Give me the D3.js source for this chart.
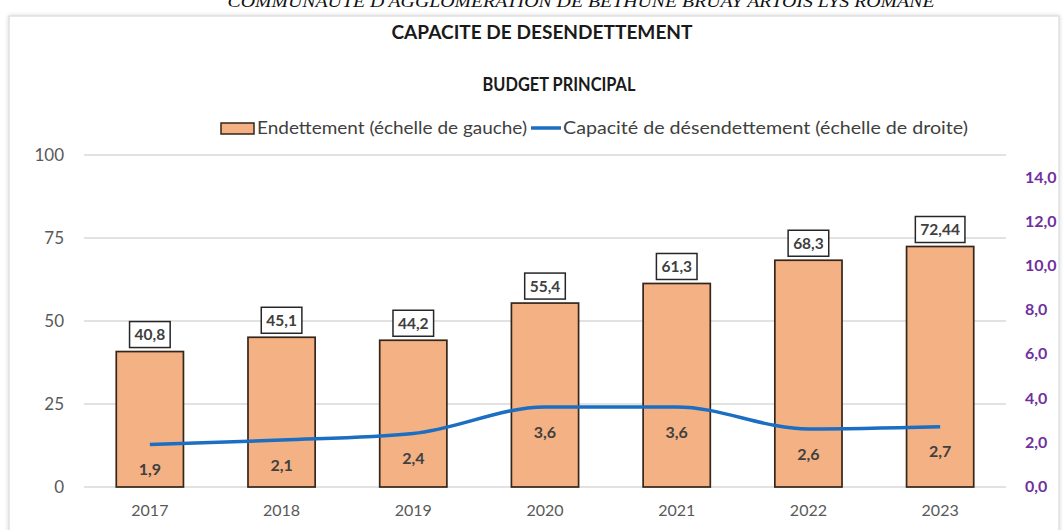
<!DOCTYPE html>
<html>
<head>
<meta charset="utf-8">
<script src="https://cdn.jsdelivr.net/npm/d3@7"></script>
<style>
  body { margin: 0; background: #fff; }
  svg text { font-family: Lato, "Open Sans", sans-serif; }
</style>
</head>
<body>
<div id="chart"></div>
<script>
// data
var years = ["2017", "2018", "2019", "2020", "2021", "2022", "2023"];
var debt = [40.8, 45.1, 44.2, 55.4, 61.3, 68.3, 72.44];
var debtLabels = ["40,8", "45,1", "44,2", "55,4", "61,3", "68,3", "72,44"];
var capacity = [1.9, 2.1, 2.4, 3.6, 3.6, 2.6, 2.7];
var leftTicks = [0, 25, 50, 75, 100];
var rightTicks = [0, 2, 4, 6, 8, 10, 12, 14];

var W = 1063, H = 530;
var frLocale = d3.formatLocale({decimal: ",", thousands: " ", grouping: [3], currency: ["", " €"]});
var fmt1 = frLocale.format(".1f");

var svg = d3.select("#chart").append("svg")
    .attr("width", W)
    .attr("height", H);

// frame with soft shadow
var defs = svg.append("defs");
var flt = defs.append("filter").attr("id", "shadow").attr("x", "-5%").attr("y", "-5%").attr("width", "110%").attr("height", "110%");
flt.append("feDropShadow").attr("dx", 0).attr("dy", 0).attr("stdDeviation", 2).attr("flood-color", "#000").attr("flood-opacity", 0.18);

svg.append("rect")
    .attr("x", 9).attr("y", 16)
    .attr("width", 1050).attr("height", 530)
    .attr("fill", "#fff")
    .attr("stroke", "#d4d4d4")
    .attr("filter", "url(#shadow)");

// header line, clipped by top of picture
svg.append("text")
    .attr("x", 581).attr("y", 7)
    .attr("text-anchor", "middle")
    .style("font-family", "'Liberation Serif', 'DejaVu Serif', serif")
    .style("font-style", "italic")
    .style("font-size", "17px")
    .attr("fill", "#111")
    .attr("textLength", 707)
    .attr("lengthAdjust", "spacingAndGlyphs")
    .text("COMMUNAUTE D'AGGLOMERATION DE BETHUNE BRUAY ARTOIS LYS ROMANE");

svg.append("text")
    .attr("x", 542).attr("y", 39)
    .attr("text-anchor", "middle")
    .style("font-size", "19px").style("font-weight", "bold")
    .attr("fill", "#1a1a1a")
    .attr("textLength", 301)
    .attr("lengthAdjust", "spacingAndGlyphs")
    .text("CAPACITE DE DESENDETTEMENT");

svg.append("text")
    .attr("x", 559).attr("y", 91)
    .attr("text-anchor", "middle")
    .style("font-size", "18px").style("font-weight", "bold")
    .attr("fill", "#1a1a1a")
    .attr("textLength", 153)
    .attr("lengthAdjust", "spacingAndGlyphs")
    .text("BUDGET PRINCIPAL");

// scales
var x = d3.scaleBand()
    .domain(years)
    .range([84, 1006])
    .paddingInner(0.49)
    .paddingOuter(0.245);

var yLeft = d3.scaleLinear().domain([0, 100]).range([487, 155]);
var yRight = d3.scaleLinear().domain([0, 14]).range([486.5, 177]);

// gridlines
svg.append("g")
    .selectAll("line")
    .data(leftTicks)
    .enter().append("line")
    .attr("x1", 84).attr("x2", 1006)
    .attr("y1", function(d) { return yLeft(d); })
    .attr("y2", function(d) { return yLeft(d); })
    .attr("stroke", "#d9d9d9")
    .attr("stroke-width", 1.3);

// left axis
var leftAxis = svg.append("g")
    .attr("transform", "translate(64,0)")
    .call(d3.axisLeft(yLeft).tickValues(leftTicks).tickSize(0).tickPadding(0));
leftAxis.select(".domain").remove();
leftAxis.selectAll("text")
    .style("font-family", "Lato, sans-serif")
    .style("font-size", "17px")
    .attr("fill", "#595959");

// right axis
var rightAxis = svg.append("g")
    .attr("transform", "translate(1025,0)")
    .call(d3.axisRight(yRight).tickValues(rightTicks).tickSize(0).tickPadding(0).tickFormat(fmt1));
rightAxis.select(".domain").remove();
rightAxis.selectAll("text")
    .style("font-family", "Lato, sans-serif")
    .style("font-size", "16px")
    .style("font-weight", "bold")
    .attr("fill", "#7030a0");

// x axis labels
var xAxis = svg.append("g")
    .attr("transform", "translate(0,487)")
    .call(d3.axisBottom(x).tickSize(0).tickPadding(18));
xAxis.select(".domain").remove();
xAxis.selectAll("text")
    .style("font-family", "Lato, sans-serif")
    .style("font-size", "16px")
    .attr("fill", "#595959");

// bars
svg.append("g")
    .selectAll("rect")
    .data(debt)
    .enter().append("rect")
    .attr("x", function(d, i) { return x(years[i]); })
    .attr("y", function(d) { return yLeft(d); })
    .attr("width", x.bandwidth())
    .attr("height", function(d) { return yLeft(0) - yLeft(d); })
    .attr("fill", "#f4b183")
    .attr("stroke", "#35261b")
    .attr("stroke-width", 1.7);

// boxed value labels on bars
var boxes = svg.append("g")
    .selectAll("g")
    .data(debt)
    .enter().append("g")
    .attr("transform", function(d, i) {
        return "translate(" + (x(years[i]) + x.bandwidth() / 2) + "," + (yLeft(d) - 17) + ")";
    });

boxes.append("text")
    .attr("text-anchor", "middle")
    .attr("dy", "0.35em")
    .style("font-size", "15.5px")
    .style("font-weight", "bold")
    .attr("fill", "#404040")
    .text(function(d, i) { return debtLabels[i]; });

boxes.each(function() {
    var g = d3.select(this);
    var bb = g.select("text").node().getBBox();
    g.insert("rect", "text")
        .attr("x", bb.x - 5)
        .attr("y", -13)
        .attr("width", bb.width + 10)
        .attr("height", 26)
        .attr("fill", "#fff")
        .attr("stroke", "#262626")
        .attr("stroke-width", 1.5);
});

// capacity line
var line = d3.line()
    .x(function(d, i) { return x(years[i]) + x.bandwidth() / 2; })
    .y(function(d) { return yRight(d); })
    .curve(d3.curveMonotoneX);

svg.append("path")
    .datum(capacity)
    .attr("d", line)
    .attr("fill", "none")
    .attr("stroke", "#1b6ec2")
    .attr("stroke-width", 3.5);

// capacity labels
svg.append("g")
    .selectAll("text")
    .data(capacity)
    .enter().append("text")
    .attr("x", function(d, i) { return x(years[i]) + x.bandwidth() / 2; })
    .attr("y", function(d) { return yRight(d) + 25; })
    .attr("text-anchor", "middle")
    .attr("dy", "0.35em")
    .style("font-size", "16px")
    .style("font-weight", "bold")
    .attr("fill", "#404040")
    .text(function(d) { return fmt1(d); });

// legend
var legend = svg.append("g");
legend.append("rect")
    .attr("x", 221).attr("y", 123)
    .attr("width", 33).attr("height", 11)
    .attr("fill", "#f4b183")
    .attr("stroke", "#35261b")
    .attr("stroke-width", 1.5);
legend.append("text")
    .attr("x", 257).attr("y", 128)
    .attr("dy", "0.35em")
    .style("font-size", "18px")
    .attr("fill", "#404040")
    .attr("textLength", 270)
    .attr("lengthAdjust", "spacingAndGlyphs")
    .text("Endettement (échelle de gauche)");
legend.append("line")
    .attr("x1", 531).attr("x2", 561)
    .attr("y1", 128).attr("y2", 128)
    .attr("stroke", "#1b6ec2")
    .attr("stroke-width", 3.5);
legend.append("text")
    .attr("x", 563).attr("y", 128)
    .attr("dy", "0.35em")
    .style("font-size", "18px")
    .attr("fill", "#404040")
    .attr("textLength", 405)
    .attr("lengthAdjust", "spacingAndGlyphs")
    .text("Capacité de désendettement (échelle de droite)");
</script>
</body>
</html>
